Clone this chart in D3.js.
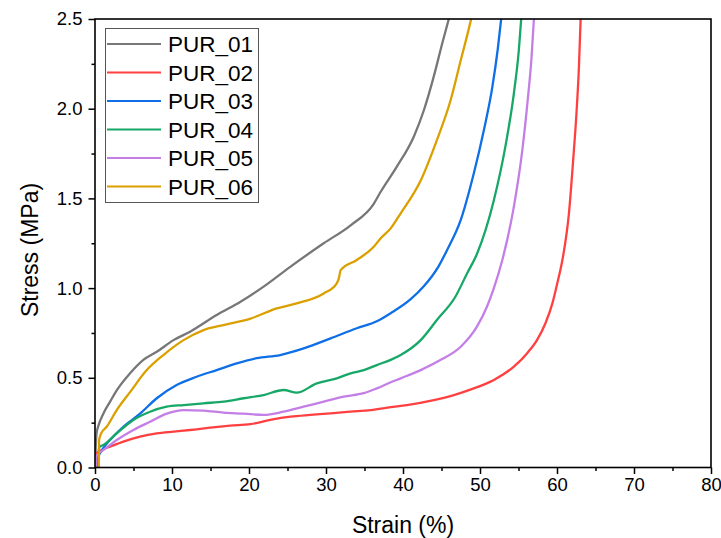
<!DOCTYPE html>
<html>
<head>
<meta charset="utf-8">
<script src="https://cdn.jsdelivr.net/npm/d3@7"></script>
<style>
  html, body { margin: 0; padding: 0; background: #fff; }
  svg { display: block; font-family: "Liberation Sans", Arial, sans-serif; }
</style>
</head>
<body>
<svg id="chart" width="721" height="538"></svg>
<script>
// ---- data (strain %, stress MPa) ----
const seriesNames = ["PUR_01", "PUR_02", "PUR_03", "PUR_04", "PUR_05", "PUR_06"];
const seriesColors = ["#777777", "#FF4040", "#0F6FE6", "#17A868", "#C47FE6", "#DBA000"];

const pur01 = [[0,0],[0.1,0.12],[0.2,0.19],[0.5,0.24],[1.08,0.30],[2.0,0.37],[2.82,0.43],[4.55,0.525],[6.28,0.60],[8.02,0.645],[10.2,0.71],[12.35,0.757],[15.8,0.85],[18.9,0.924],[21.9,1.008],[25.4,1.12],[29.7,1.25],[33.2,1.35],[36.2,1.47],[37.1,1.537],[39.2,1.677],[41.4,1.844],[42.7,1.99],[44.0,2.18],[45.1,2.365],[45.95,2.5]];
const pur02 = [[0,0],[0.05,0.06],[0.2,0.08],[1.0,0.10],[1.95,0.116],[3.68,0.144],[5.85,0.172],[8.02,0.19],[10.2,0.20],[12.35,0.209],[14.95,0.222],[17.55,0.233],[20.2,0.242],[22.75,0.265],[25.4,0.283],[27.96,0.293],[30.6,0.302],[33.2,0.311],[35.8,0.32],[38.4,0.336],[40.5,0.348],[44.0,0.376],[46.6,0.404],[49.2,0.441],[51.8,0.488],[54.4,0.562],[56.1,0.636],[57.4,0.71],[58.5,0.804],[59.4,0.915],[60.0,1.02],[60.8,1.18],[61.55,1.417],[62.1,1.714],[62.55,1.99],[62.85,2.234],[63.07,2.5]];
const pur03 = [[0.3,0],[0.35,0.05],[0.8,0.09],[1.95,0.153],[3.68,0.227],[5.85,0.30],[8.02,0.386],[10.6,0.46],[13.2,0.506],[15.8,0.543],[18.4,0.58],[21.0,0.609],[24.05,0.627],[27.1,0.664],[30.6,0.72],[34.0,0.776],[36.6,0.815],[38.4,0.86],[41.0,0.938],[42.7,1.01],[44.6,1.12],[45.7,1.21],[47.5,1.38],[49.2,1.64],[50.5,1.88],[51.6,2.12],[52.3,2.33],[52.75,2.5]];
const pur04 = [[0.45,0],[0.5,0.1],[0.6,0.116],[1.08,0.125],[2.82,0.19],[4.98,0.265],[7.15,0.311],[9.32,0.339],[11.5,0.348],[14.1,0.358],[16.7,0.367],[19.3,0.386],[21.9,0.404],[24.5,0.432],[26.2,0.417],[28.8,0.469],[31.4,0.497],[33.2,0.525],[34.9,0.543],[36.6,0.571],[38.4,0.60],[39.7,0.627],[42.3,0.71],[44.4,0.822],[46.8,0.952],[48.3,1.08],[49.6,1.19],[51.8,1.49],[53.3,1.79],[54.4,2.086],[55.05,2.33],[55.35,2.5]];
const pur05 = [[0.1,0],[0.15,0.06],[0.5,0.08],[1.08,0.0975],[2.82,0.153],[4.98,0.209],[7.15,0.255],[9.32,0.30],[11.5,0.32],[14.1,0.317],[16.7,0.306],[19.3,0.30],[21.9,0.293],[24.5,0.311],[27.1,0.339],[29.7,0.367],[32.3,0.395],[34.9,0.414],[36.6,0.441],[38.4,0.475],[39.7,0.497],[42.3,0.543],[44.9,0.60],[47.5,0.673],[49.6,0.785],[50.9,0.896],[51.8,1.0],[52.9,1.157],[54.4,1.454],[55.5,1.77],[56.2,2.05],[56.7,2.29],[57.0,2.5]];
const pur06 = [[0.5,0],[0.52,0.15],[0.8,0.19],[1.52,0.227],[2.82,0.32],[4.55,0.42],[6.72,0.543],[8.88,0.627],[11.5,0.71],[14.1,0.766],[16.7,0.794],[20.2,0.83],[23.6,0.887],[26.2,0.915],[29.7,0.97],[31.4,1.027],[31.7,1.06],[31.9,1.10],[34.0,1.157],[36.2,1.23],[37.1,1.278],[38.4,1.333],[39.7,1.417],[42.3,1.60],[44.4,1.825],[46.2,2.05],[47.5,2.27],[48.4,2.42],[48.85,2.5]];
const seriesData = [pur01, pur02, pur03, pur04, pur05, pur06];

const xTicks = [0, 10, 20, 30, 40, 50, 60, 70, 80];
const xMinorTicks = [5, 15, 25, 35, 45, 55, 65, 75];
const yTicks = [0.0, 0.5, 1.0, 1.5, 2.0, 2.5];
const yMinorTicks = [0.25, 0.75, 1.25, 1.75, 2.25];

// ---- layout ----
const L = 95, R = 711, T = 19, B = 467.5;
const svg = d3.select("#chart");

const x = d3.scaleLinear().domain([0, 80]).range([L, R]);
const y = d3.scaleLinear().domain([0, 2.5]).range([B, T]);

svg.append("defs").append("clipPath").attr("id", "plotclip")
  .append("rect").attr("x", L).attr("y", T).attr("width", R - L).attr("height", B - T);

// curves
const line = d3.line().x(d => x(d[0])).y(d => y(d[1])).curve(d3.curveMonotoneX);
const curves = svg.append("g").attr("clip-path", "url(#plotclip)");
seriesData.forEach((s, i) => {
  curves.append("path")
    .attr("d", line(s))
    .attr("fill", "none")
    .attr("stroke", seriesColors[i])
    .attr("stroke-width", 2.3)
    .attr("stroke-linejoin", "round");
});

// axes
const xAxis = d3.axisBottom(x).tickValues(xTicks).tickFormat(d3.format("d")).tickSize(6.5).tickPadding(4);
const xMinor = d3.axisBottom(x).tickValues(xMinorTicks).tickFormat("").tickSize(3.5);
const yAxis = d3.axisLeft(y).tickValues(yTicks).tickFormat(d3.format(".1f")).tickSize(6.5).tickPadding(6);
const yMinor = d3.axisLeft(y).tickValues(yMinorTicks).tickFormat("").tickSize(3.5);

function styleAxis(g) {
  g.select(".domain").remove();
  g.selectAll(".tick line").attr("stroke", "#000").attr("stroke-width", 1.5);
  g.selectAll(".tick text").attr("fill", "#000").style("font-size", "18.5px")
    .style("font-family", "'Liberation Sans', Arial, sans-serif");
}
svg.append("g").attr("transform", `translate(0,${B})`).call(xAxis).call(styleAxis);
svg.append("g").attr("transform", `translate(0,${B})`).call(xMinor).call(styleAxis);
svg.append("g").attr("transform", `translate(${L},0)`).call(yAxis).call(styleAxis);
svg.append("g").attr("transform", `translate(${L},0)`).call(yMinor).call(styleAxis);

// frame
svg.append("rect").attr("x", L).attr("y", T).attr("width", R - L).attr("height", B - T)
  .attr("fill", "none").attr("stroke", "#000").attr("stroke-width", 1.6);

// axis titles
svg.append("text").attr("x", (L + R) / 2).attr("y", 533).attr("text-anchor", "middle")
  .style("font-size", "23px").text("Strain (%)");
svg.append("text").attr("transform", "translate(38,250) rotate(-90)").attr("text-anchor", "middle")
  .style("font-size", "23px").text("Stress (MPa)");

// legend
const lg = svg.append("g");
lg.append("rect").attr("x", 105.5).attr("y", 28.5).attr("width", 153).attr("height", 174)
  .attr("fill", "#fff").attr("stroke", "#555").attr("stroke-width", 1);
seriesNames.forEach((name, i) => {
  const yy = 44 + i * 28.5;
  lg.append("line").attr("x1", 107).attr("x2", 161).attr("y1", yy).attr("y2", yy)
    .attr("stroke", seriesColors[i]).attr("stroke-width", 2.2);
  lg.append("text").attr("x", 168).attr("y", yy + 8).style("font-size", "22.5px").text(name);
});
</script>
</body>
</html>
